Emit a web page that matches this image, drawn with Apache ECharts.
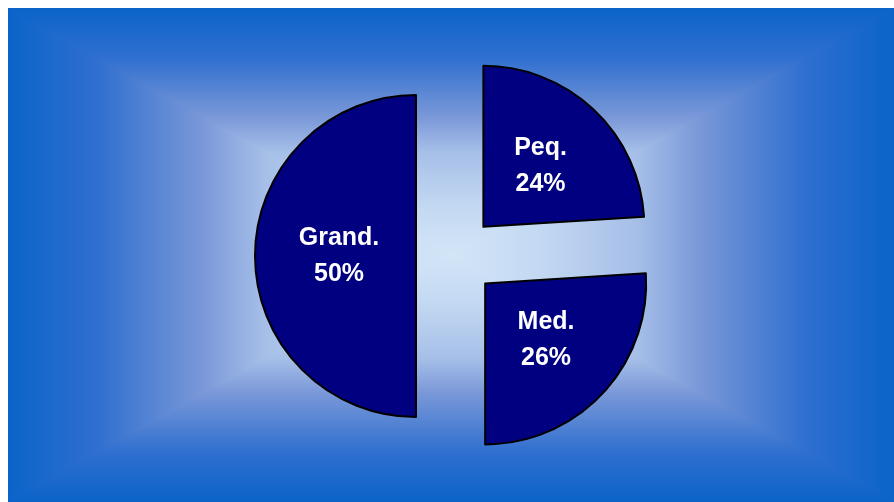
<!DOCTYPE html>
<html>
<head>
<meta charset="utf-8">
<script src="https://cdn.jsdelivr.net/npm/echarts@6/dist/echarts.min.js"></script>
<style>
html,body{margin:0;padding:0;background:#fff;}
#chart{width:894px;height:502px;}
</style>
</head>
<body>
<div id="chart"></div>
<script>
var categories = ['Peq.', 'Med.', 'Grand.'];
var values = [24, 26, 50];

function grad(x, y, x2, y2) {
  return new echarts.graphic.LinearGradient(x, y, x2, y2, [
    {offset: 0, color: '#0b63c9'},
    {offset: 0.2, color: '#2f6fcf'},
    {offset: 0.44, color: '#7a98d8'},
    {offset: 0.58, color: '#a6bfe8'},
    {offset: 0.8, color: '#c3d8f2'},
    {offset: 1, color: '#d3e5f7'}
  ]);
}
var L = 8, T = 8, R = 894, B = 502, CX = (L + R) / 2, CY = (T + B) / 2;

var chart = echarts.init(document.getElementById('chart'), null, {renderer: 'canvas'});
chart.setOption({
  animation: false,
  backgroundColor: '#fff',
  graphic: [
    {type: 'rect', z: -20, shape: {x: L, y: T, width: R - L, height: CY - T + 1}, style: {fill: grad(0, 0, 0, 1)}},
    {type: 'rect', z: -20, shape: {x: L, y: CY - 1, width: R - L, height: B - CY + 1}, style: {fill: grad(0, 1, 0, 0)}},
    {type: 'polygon', z: -10, shape: {points: [[L, T], [L, B], [CX, CY]]}, style: {fill: grad(0, 0, 1, 0)}},
    {type: 'polygon', z: -10, shape: {points: [[R, T], [R, B], [CX, CY]]}, style: {fill: grad(1, 0, 0, 0)}}
  ],
  series: [{
    type: 'pie',
    center: [456, 256],
    radius: 161,
    startAngle: 90,
    clockwise: true,
    selectedMode: 'multiple',
    selectedOffset: 40,
    emphasis: {disabled: true},
    itemStyle: {color: '#000080', borderColor: '#000', borderWidth: 2},
    select: {itemStyle: {color: '#000080', borderColor: '#000', borderWidth: 2}},
    label: {
      show: true,
      position: 'inside',
      formatter: '{b}\n{d}%',
      color: '#fff',
      fontFamily: 'Liberation Sans, Arial, sans-serif',
      fontWeight: 'bold',
      fontSize: 25,
      lineHeight: 36,
      align: 'center'
    },
    labelLine: {show: false},
    data: categories.map(function (c, i) {
      var d = {name: c, value: values[i], selected: true};
      if (c === 'Grand.') d.label = {padding: [0, 0, 0, 13]};
      return d;
    })
  }]
});
</script>
</body>
</html>
